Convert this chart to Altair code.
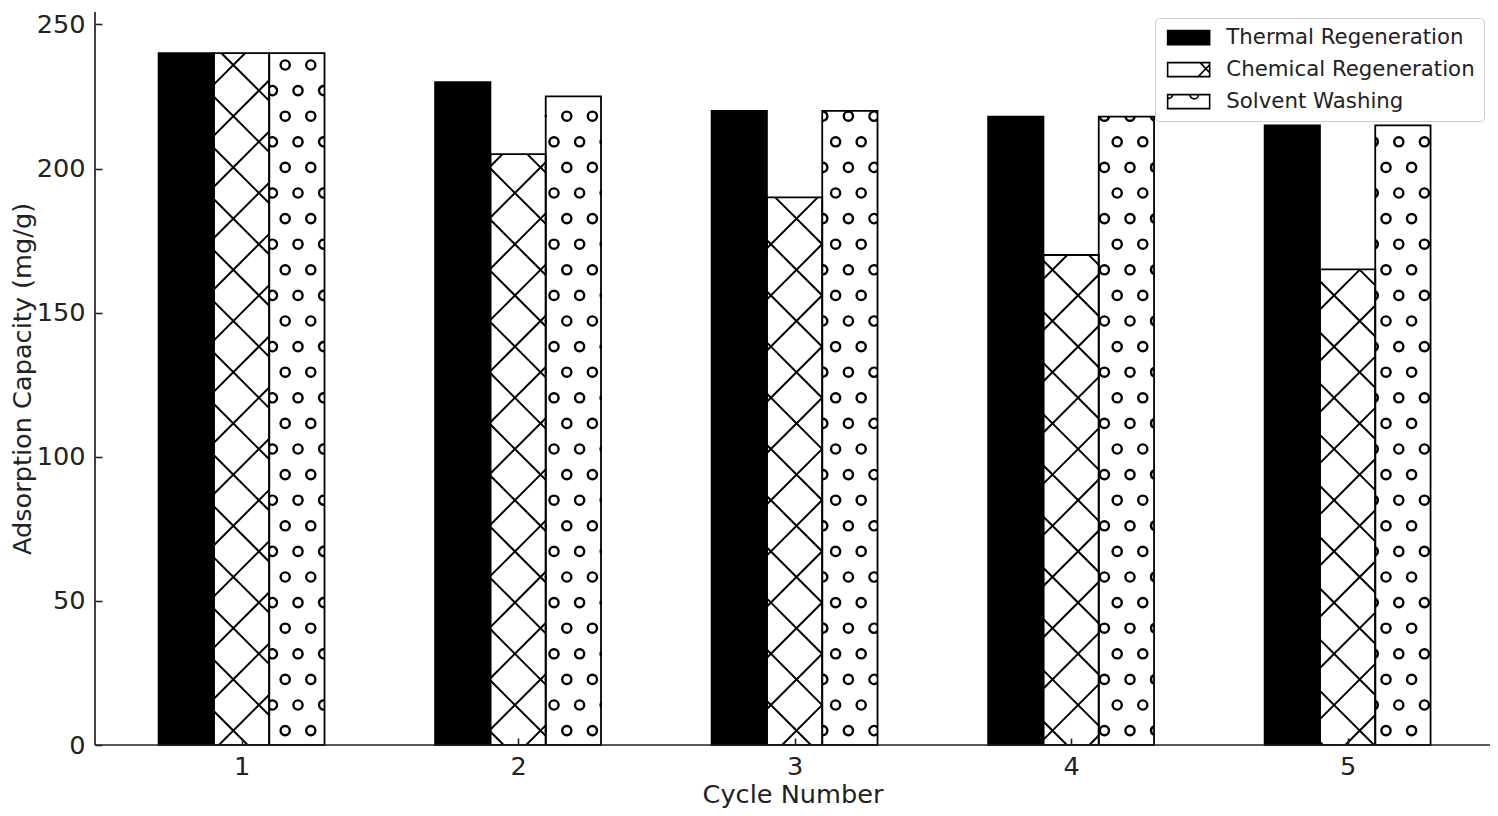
import math
import numpy as np
import pandas as pd
import altair as alt

# ---------------- data ----------------
cycles = [1, 2, 3, 4, 5]
methods = ["Thermal Regeneration", "Chemical Regeneration", "Solvent Washing"]
thermal = [240, 230, 220, 218, 215]
chemical = [240, 205, 190, 170, 165]
solvent = [240, 225, 220, 218, 215]
x_ticks = [1, 2, 3, 4, 5]
y_ticks = [0, 50, 100, 150, 200, 250]

# ---------------- layout / style ----------------
BAR_W = 0.2
GROUP_OFFSETS = [-0.2, 0.0, 0.2]
X_DOMAIN = [0.47, 5.515]
Y_DOMAIN = [0, 254.3]
W, H = 1395, 733
PAD_L, PAD_T, PAD_B = 87, 4, 63
FONT = "DejaVu Sans"
INK = "#222222"
PAGE_X0, PAGE_Y0 = 8 + PAD_L, 8 + PAD_T

SX = W / (X_DOMAIN[1] - X_DOMAIN[0])
SY = H / (Y_DOMAIN[1] - Y_DOMAIN[0])

def px_x(v):
    return (v - X_DOMAIN[0]) * SX

def px_y(v):
    return H - (v - Y_DOMAIN[0]) * SY

def dx(p):
    return X_DOMAIN[0] + p / SX

def dy(p):
    return Y_DOMAIN[0] + (H - p) / SY

# hatch geometry (page-anchored, like matplotlib)
LINE_SP = 51.2
NE0 = (42.3 - PAGE_X0 - PAGE_Y0) % LINE_SP
SE0 = (14.7 - PAGE_X0 + PAGE_Y0) % LINE_SP
ROW_SP = 25.6
ROW0 = 13.8 - PAGE_Y0
COL_EVEN = 3.6 - PAGE_X0
COL_ODD = 16.4 - PAGE_X0
CIRC_R = 4.6

rows = []
for m, off, vals in zip(methods, GROUP_OFFSETS, [thermal, chemical, solvent]):
    for c, v in zip(cycles, vals):
        rows.append({"cycle": c, "method": m, "value": v, "xc": c + off})
df = pd.DataFrame(rows)

# ---- cross hatch ('x') for chemical bars ----
line_rows = []
for _, r in df[df.method == methods[1]].iterrows():
    X0, X1 = px_x(r.xc - BAR_W / 2), px_x(r.xc + BAR_W / 2)
    Y0, Y1 = px_y(r.value), px_y(0)
    n0 = math.floor((X0 + Y0 - NE0) / LINE_SP) - 1
    n1 = math.ceil((X1 + Y1 - NE0) / LINE_SP) + 1
    for n in range(n0, n1 + 1):
        c = NE0 + n * LINE_SP
        lo, hi = max(Y0, c - X1), min(Y1, c - X0)
        if hi - lo > 0.5:
            line_rows.append({"x1": dx(c - lo), "y1": dy(lo), "x2": dx(c - hi), "y2": dy(hi)})
    n0 = math.floor((X0 - Y1 - SE0) / LINE_SP) - 1
    n1 = math.ceil((X1 - Y0 - SE0) / LINE_SP) + 1
    for n in range(n0, n1 + 1):
        c = SE0 + n * LINE_SP
        lo, hi = max(Y0, X0 - c), min(Y1, X1 - c)
        if hi - lo > 0.5:
            line_rows.append({"x1": dx(c + lo), "y1": dy(lo), "x2": dx(c + hi), "y2": dy(hi)})
lines_df = pd.DataFrame(line_rows)

# ---- small circles ('o') for solvent bars ----
N = 720
thetas = np.linspace(0, 2 * np.pi, N, endpoint=False)
step = 2 * np.pi / N
circ_rows = []
for _, r in df[df.method == methods[2]].iterrows():
    X0, X1 = px_x(r.xc - BAR_W / 2), px_x(r.xc + BAR_W / 2)
    Y0, Y1 = px_y(r.value), px_y(0)
    k0 = math.floor((Y0 - CIRC_R - ROW0) / ROW_SP)
    k1 = math.ceil((Y1 + CIRC_R - ROW0) / ROW_SP)
    for k in range(k0, k1 + 1):
        cy = ROW0 + k * ROW_SP
        base_x = COL_EVEN if k % 2 == 0 else COL_ODD
        j0 = math.floor((X0 - CIRC_R - base_x) / ROW_SP)
        j1 = math.ceil((X1 + CIRC_R - base_x) / ROW_SP)
        for j in range(j0, j1 + 1):
            cx = base_x + j * ROW_SP
            xs = cx + CIRC_R * np.sin(thetas)
            ys = cy - CIRC_R * np.cos(thetas)
            inside = (xs >= X0) & (xs <= X1) & (ys >= Y0) & (ys <= Y1)
            if not inside.any():
                continue
            if inside.all():
                circ_rows.append({"cx": dx(cx), "cy": dy(cy), "t0": 0.0, "t1": 2 * np.pi})
                continue
            start = int(np.argmin(inside))
            order = np.roll(np.arange(N), -start)
            ins = inside[order]
            i = 0
            while i < N:
                if ins[i]:
                    s = i
                    while i < N and ins[i]:
                        i += 1
                    e = i - 1
                    a0 = (start + s) * step - step / 2
                    a1 = (start + e) * step + step / 2
                    circ_rows.append({"cx": dx(cx), "cy": dy(cy), "t0": a0, "t1": a1})
                else:
                    i += 1
circ_df = pd.DataFrame(circ_rows)

# ---------------- scales / axes ----------------
xs_scale = alt.Scale(domain=X_DOMAIN, nice=False, zero=False)
ys_scale = alt.Scale(domain=Y_DOMAIN, nice=False)
fill_scale = alt.Scale(domain=methods, range=["black", "white", "white"])
stroke_scale = alt.Scale(domain=methods, range=["black", "black", "black"])
shape_scale = alt.Scale(
    domain=methods,
    range=[
        "M-3,-1H3V1H-3Z",
        "M-3,-1H3V1H-3Z M3,-0.7L1.36,1 M1.64,-1L3,0.43",
        "M-3,-1H3V1H-3Z M0.19,-1A0.6,0.6 0 1 0 1.39,-1 M-3,-0.49A0.6,0.6 0 0 0 -2.27,-1",
    ],
)

x_axis = alt.Axis(
    values=x_ticks, format="d", title="Cycle Number", domain=False, grid=False,
    tickSize=7, tickWidth=1.6, tickColor=INK, offset=-7, labelFlush=False,
    labelFont=FONT, labelFontSize=25.6, labelColor=INK, labelPadding=9,
    titleFont=FONT, titleFontSize=25.6, titleColor=INK, titleFontWeight="normal",
    titleBaseline="alphabetic", titleY=64, zindex=1,
)
y_axis = alt.Axis(
    values=y_ticks, title="Adsorption Capacity (mg/g)", domain=False, grid=False,
    tickSize=7, tickWidth=1.6, tickColor=INK, offset=-7, labelFlush=False,
    labelFont=FONT, labelFontSize=25.6, labelColor=INK, labelPadding=10,
    titleFont=FONT, titleFontSize=25.6, titleColor=INK, titleFontWeight="normal",
    titleBaseline="alphabetic", titleX=-72, zindex=1,
)

legend = alt.Legend(
    title=None, orient="top-right", offset=6,
    fillColor="rgba(255,255,255,0.8)", strokeColor="#cccccc", cornerRadius=4,
    padding=9, labelFont=FONT, labelFontSize=21.3, labelColor=INK, labelLimit=500,
    symbolSize=196, symbolOffset=14, labelOffset=27, rowPadding=10,
    symbolStrokeColor="black", symbolStrokeWidth=1.6, symbolOpacity=1,
)

def X(field):
    return alt.X(field, scale=xs_scale, axis=x_axis)

def Y(field):
    return alt.Y(field, scale=ys_scale, axis=y_axis)

base = alt.Chart(df).transform_calculate(
    xl=f"datum.xc - {BAR_W / 2}", xr=f"datum.xc + {BAR_W / 2}"
)

bars = base.mark_rect(strokeWidth=0).encode(
    x=X("xl:Q"),
    x2="xr:Q",
    y=Y("value:Q"),
    y2=alt.datum(0),
    fill=alt.condition(
        alt.datum.method == methods[0], alt.value("black"), alt.value("white")
    ),
)

hatch_lines = alt.Chart(lines_df).mark_rule(color="black", strokeWidth=2).encode(
    x=X("x1:Q"), x2="x2:Q",
    y=Y("y1:Q"), y2="y2:Q",
)

hatch_circles = alt.Chart(circ_df).mark_arc(radius=5.8, radius2=3.4, color="black").encode(
    x=X("cx:Q"),
    y=Y("cy:Q"),
    theta=alt.Theta("t0:Q", scale=None, stack=False),
    theta2="t1:Q",
)

outlines = base.mark_rect(fillOpacity=0, stroke="black", strokeWidth=1.8).encode(
    x=X("xl:Q"), x2="xr:Q",
    y=Y("value:Q"), y2=alt.datum(0),
)

spine_left = alt.Chart(pd.DataFrame({"x": [X_DOMAIN[0]]})).mark_rule(
    color=INK, strokeWidth=1.7
).encode(x=X("x:Q"))
spine_bottom = alt.Chart(pd.DataFrame({"y": [0]})).mark_rule(
    color=INK, strokeWidth=1.7
).encode(y=Y("y:Q"))

legend_pts = base.mark_point(filled=True, opacity=0).encode(
    x=X("xc:Q"),
    y=Y("value:Q"),
    fill=alt.Fill("method:N", scale=fill_scale, legend=legend),
    stroke=alt.Stroke("method:N", scale=stroke_scale, legend=legend),
    shape=alt.Shape("method:N", scale=shape_scale, legend=legend),
)

chart = (
    alt.layer(bars, hatch_lines, hatch_circles, outlines, spine_left, spine_bottom, legend_pts)
    .properties(
        width=W, height=H,
        padding={"left": PAD_L, "top": PAD_T, "right": 0, "bottom": PAD_B},
        autosize=alt.AutoSizeParams(type="none"),
    )
    .configure(font=FONT)
    .configure_view(stroke="transparent", strokeWidth=0)
)

chart.save("out.html", embed_options={"renderer": "svg", "actions": False})
